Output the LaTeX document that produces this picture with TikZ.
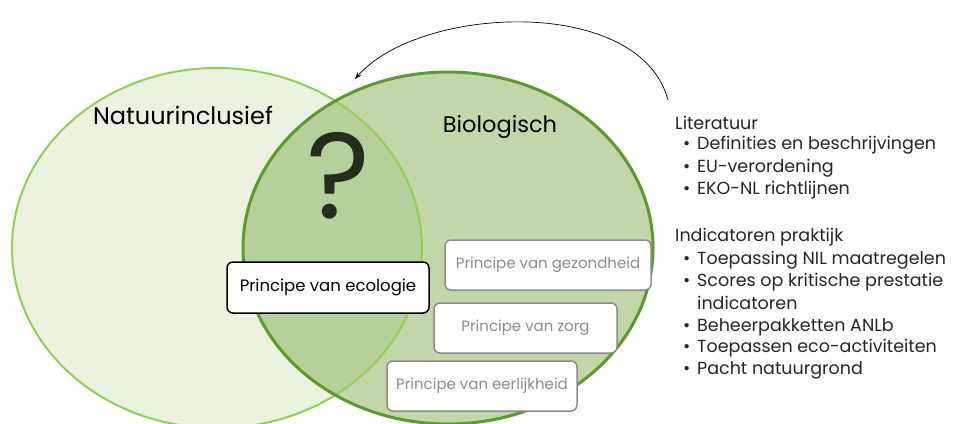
\documentclass[tikz,border=0pt]{standalone}
\usepackage{fontspec}
\setmainfont{Poppins}
\usepackage{xcolor}
\usetikzlibrary{arrows.meta}

\definecolor{natfill}{HTML}{EBF3E0}
\definecolor{natline}{HTML}{92D050}
\definecolor{biofill}{HTML}{C3D6AA}
\definecolor{bioline}{HTML}{5C9A2C}
\definecolor{overlap}{HTML}{B5D09B}
\definecolor{greytext}{HTML}{8C8C8C}
\definecolor{qmark}{HTML}{262D1C}

\tikzset{
    principe/.style={draw=black, fill=white, rounded corners=6pt, line width=1.5pt,
        inner sep=0pt, minimum height=51pt, minimum width=202pt,
        font=\fontsize{16.5}{19}\selectfont},
    principegrey/.style={principe, draw=greytext, text=greytext, minimum height=50pt,
        font=\fontsize{15}{18}\selectfont},
    listline/.style={anchor=west, inner sep=0pt, text=black!85,
        font=\fontsize{17.5}{20}\selectfont},
}

\begin{document}
\begin{tikzpicture}[x=1pt,y=-1pt]
            \useasboundingbox (0,0) rectangle (957,423);
            \clip (0,0) rectangle (957,423);
            \fill[white] (0,0) rectangle (957,423);
            \begin{scope}
                \fill[natfill] (217,248) ellipse (205 and 180);
                \fill[biofill] (448,248) ellipse (205 and 176);
            \end{scope}
            \begin{scope}
                \clip (217,248) ellipse (205 and 180);
                \fill[overlap] (448,248) ellipse (205 and 176);
            \end{scope}
            \begin{scope}
                \draw[natline, line width=2pt] (217,248) ellipse (205 and 180);
                \draw[bioline, line width=3pt] (448,248) ellipse (205 and 176);
            \end{scope}
            \node (natuur) at (183,115) {\fontsize{24}{28}\selectfont Natuurinclusief};
                \node (bio) at (500,127) {\fontsize{22.5}{26}\selectfont Biologisch};
                \node[text=qmark] (vraag) at (338,176) {\fontsize{122}{122}\selectfont ?};
            \node[principe] (ecologie) at (328,287.5) {Principe van ecologie};
            \node[principegrey, minimum width=206pt] (gezondheid) at (548,265) {Principe van gezondheid};
            \node[principegrey, minimum width=183pt] (zorg) at (525.5,328) {Principe van zorg};
            \node[principegrey, minimum width=190pt] (eerlijkheid) at (482,386) {Principe van eerlijkheid};

            \node[listline] (lit) at (675,123) {Literatuur};
            \node[listline] (lit1) at (683,145) {\makebox[14pt][l]{\textbullet}Definities en beschrijvingen};
            \node[listline] (lit2) at (683,168) {\makebox[14pt][l]{\textbullet}EU-verordening};
            \node[listline] (lit3) at (683,190) {\makebox[14pt][l]{\textbullet}EKO-NL richtlijnen};
            \node[listline] (ind) at (675,237) {Indicatoren praktijk};
            \node[listline] (ind1) at (683,260) {\makebox[14pt][l]{\textbullet}Toepassing NIL maatregelen};
            \node[listline] (ind2) at (683,282) {\makebox[14pt][l]{\textbullet}Scores op kritische prestatie};
            \node[listline] (ind2b) at (697,303) {indicatoren};
            \node[listline] (ind3) at (683,327) {\makebox[14pt][l]{\textbullet}Beheerpakketten ANLb};
            \node[listline] (ind4) at (683,348) {\makebox[14pt][l]{\textbullet}Toepassen eco-activiteiten};
            \node[listline] (ind5) at (683,370) {\makebox[14pt][l]{\textbullet}Pacht natuurgrond};

            \coordinate (pijlstart) at (668,100);
            \coordinate (pijleind) at (355,79);
            \draw[-{Stealth[length=7pt,width=5pt]}, line width=0.7pt] (pijlstart) .. controls (640,-5) and (420,5) .. (pijleind);
        \end{tikzpicture}
\end{document}
